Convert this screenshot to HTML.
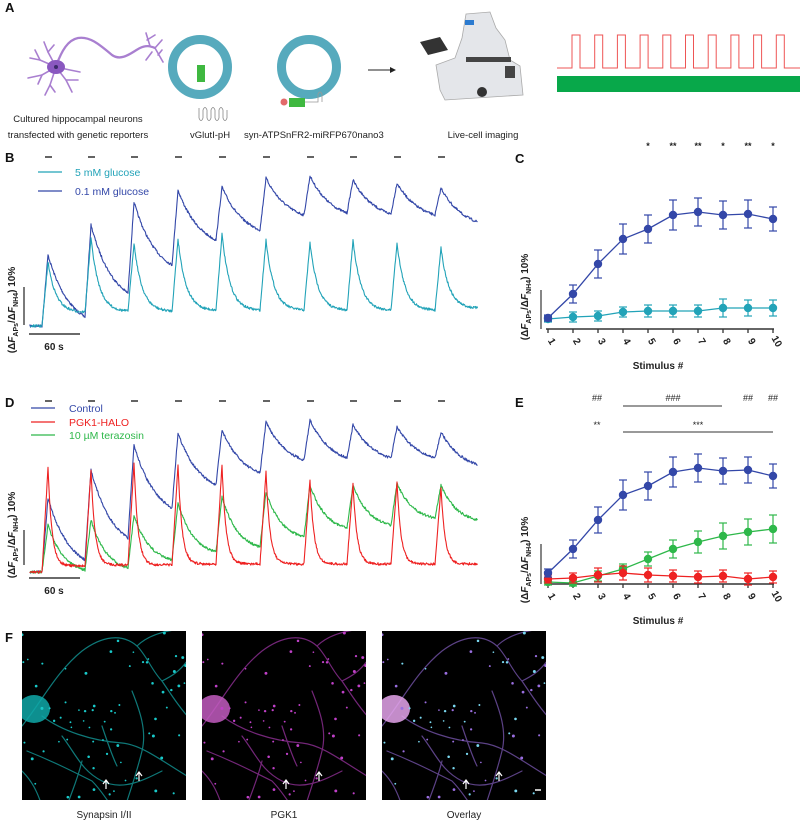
<!DOCTYPE html>
<html><head><meta charset="utf-8"><style>
html,body{margin:0;padding:0;background:#fff;}
svg{display:block;font-family:"Liberation Sans",Arial,sans-serif;}
</style></head><body>
<svg id="s" width="800" height="824" viewBox="0 0 800 824" xmlns="http://www.w3.org/2000/svg">
<defs>
<g id="neur" fill="none" stroke-linecap="round">
<path d="M0,95 C20,70 35,40 60,20 C80,5 100,2 115,15 C125,25 130,40 140,50 C150,65 160,80 170,90"/>
<path d="M20,85 C40,100 70,110 100,112 C120,114 140,130 165,145"/>
<path d="M110,60 C118,80 125,100 120,120 C115,140 110,155 105,170"/>
<path d="M5,120 C30,130 50,140 70,150 C80,160 85,170 90,175"/>
<path d="M40,105 C55,125 60,140 80,150 C100,160 120,150 140,140"/>
<path d="M115,15 C125,5 140,0 160,-2"/>
<path d="M140,50 C150,45 158,40 165,30"/>
<path d="M60,130 C55,150 50,160 45,175"/>
<path d="M0,140 C10,150 15,160 20,175"/>
<path d="M80,95 C85,110 90,125 95,135"/>
</g>
</defs>
<g id="root"></g>
</svg>
<script>
var NS="http://www.w3.org/2000/svg",root=document.getElementById('root');
function el(t,a,txt){var e=document.createElementNS(NS,t);for(var k in a)e.setAttribute(k,a[k]);if(txt!==undefined)e.textContent=txt;root.appendChild(e);return e;}
function txt(x,y,s,o){o=o||{};var a={x:x,y:y,'font-size':o.fs||11,fill:o.fill||'#222'};if(o.anchor)a['text-anchor']=o.anchor;if(o.bold)a['font-weight']='bold';if(o.tr)a.transform=o.tr;return el('text',a,s);}
var seed=7;function rnd(){seed=(seed*16807)%2147483647;return seed/2147483647;}
[['A',5,12],['B',5,162],['C',515,163],['D',5,407],['E',515,407],['F',5,642]].forEach(function(l){txt(l[1],l[2],l[0],{fs:13,bold:1,fill:'#111'});});
// Panel A neuron
var PU='#a97fd0';
el('path',{d:'M56,66 C62,50 68,40 78,38 C90,36 100,45 112,55 C122,62 132,52 140,48 C146,45 150,46 155,48',stroke:PU,'stroke-width':2.3,fill:'none'});
[['M56,67 L40,60 L30,58'],['M40,60 L35,50'],['M56,67 L42,75 L28,78'],['M42,75 L38,84'],['M56,67 L50,85 L45,95'],['M50,85 L55,92'],['M56,67 L66,80 L72,92'],['M66,80 L78,80'],['M56,67 L70,70 L80,72'],['M56,67 L48,52 L44,42'],['M48,52 L54,45'],['M155,48 L162,40'],['M155,48 L163,62'],['M150,46 L146,33'],['M147,40 L155,35'],['M152,52 L146,60'],['M158,55 L162,50']].forEach(function(p){el('path',{d:p[0],stroke:PU,'stroke-width':1.6,fill:'none','stroke-linecap':'round'});});
el('ellipse',{cx:56,cy:67,rx:9,ry:7,fill:'#8a58c0'});el('circle',{cx:56,cy:67,r:2,fill:'#3b2a6a'});
// rings
el('circle',{cx:200,cy:67,r:27.5,fill:'none',stroke:'#56aabd','stroke-width':9});
el('circle',{cx:309,cy:67,r:27.5,fill:'none',stroke:'#56aabd','stroke-width':9});
el('rect',{x:197,y:65,width:8,height:17,fill:'#3fb840'});
el('path',{d:'M199,108 L199,118 q2,5 4,0 l0,-8 q2,-5 4,0 l0,8 q2,5 4,0 l0,-8 q2,-5 4,0 l0,8 q2,5 4,0 l0,-8 q2,-5 4,0 l0,8 q2,5 4,0 l0,-8',stroke:'#888','stroke-width':0.8,fill:'none'});
el('rect',{x:289,y:98,width:16,height:9,fill:'#3fb840'});el('circle',{cx:284,cy:102,r:3.5,fill:'#e26a6a'});
el('path',{d:'M305,102 L318,102 l0,-8 q2,-4 4,0 l0,8',stroke:'#999','stroke-width':0.8,fill:'none'});
// arrow
el('line',{x1:368,y1:70,x2:392,y2:70,stroke:'#222','stroke-width':1});el('path',{d:'M390,67 L396,70 L390,73Z',fill:'#222'});
// microscope
el('path',{d:'M466,14 L490,12 L496,28 L505,40 L510,60 L520,66 L523,95 L445,100 L440,90 L436,65 L455,58 L462,38 Z',fill:'#e4e6ea',stroke:'#aaa','stroke-width':0.8});
el('rect',{x:465,y:20,width:9,height:5,fill:'#2c7bd0'});
el('rect',{x:466,y:57,width:45,height:5,fill:'#444'});el('circle',{cx:482,cy:92,r:5,fill:'#333'});
el('path',{d:'M420,42 L440,37 L448,50 L428,55Z',fill:'#333'});el('rect',{x:505,y:66,width:10,height:12,fill:'#444'});
// red square wave and green bar
var sw='M557,68';for(var i=0;i<11;i++){var x0=572+i*22.7;if(x0>798)break;sw+=' L'+x0+',68 L'+x0+',35 L'+Math.min(x0+8,800)+',35 L'+Math.min(x0+8,800)+',68';}sw+=' L800,68';
el('path',{d:sw,stroke:'#ee5555','stroke-width':1,fill:'none'});
el('rect',{x:557,y:76,width:243,height:16,fill:'#08a84a'});
txt(78,122,'Cultured hippocampal neurons',{fs:9.5,anchor:'middle'});txt(78,138,'transfected with genetic reporters',{fs:9.5,anchor:'middle'});
txt(210,138,'vGlutI-pH',{fs:9.5,anchor:'middle'});txt(244,138,'syn-ATPSnFR2-miRFP670nano3',{fs:9.5});
txt(483,138,'Live-cell imaging',{fs:9.5,anchor:'middle'});
// traces
var onsets=[42,85,128,172,216,260,304,347,391,435];
function trace(base,peaks,troughs,tau,color,noise){
 var d='M30,'+base,x;
 for(x=30;x<onsets[0];x+=0.5){d+=' L'+x+','+(base+(rnd()-.5)*noise).toFixed(1);}
 var start=base;
 for(var i=0;i<10;i++){var s=onsets[i],e=(i<9?onsets[i+1]:478),p=peaks[i],t=troughs[i];
  for(x=s;x<s+6;x+=0.5){var yy=start+(p-start)*(x-s)/6;d+=' L'+x+','+(yy+(rnd()-.5)*noise).toFixed(1);}
  var L=e-(s+6);
  for(x=s+6;x<e;x+=0.5){var tt=(x-s-6);var f=(Math.exp(-tt/tau)-Math.exp(-L/tau))/(1-Math.exp(-L/tau));var yy=t+(p-t)*f;d+=' L'+x+','+(yy+(rnd()-.5)*noise).toFixed(1);}
  start=t;}
 el('path',{d:d,stroke:color,'stroke-width':1.1,fill:'none','stroke-linejoin':'round'});
}
var CY='#22a3b8',BL='#3347a8',RD='#ee2222',GR='#2eb84a';
trace(326,[255,225,202,190,187,178,176,180,183,188],[317,293,265,240,230,215,213,214,215,222],22,BL,2.5);
trace(326,[262,238,243,239,234,240,243,240,243,248],[312,311,311,310,310,310,310,310,310,308],8,CY,2.5);
onsets.forEach(function(o){el('line',{x1:o+3,y1:157,x2:o+10,y2:157,stroke:'#111','stroke-width':1.3});});
el('line',{x1:38,y1:172,x2:62,y2:172,stroke:CY,'stroke-width':1.2});txt(75,176,'5 mM glucose',{fs:10.5,fill:CY});
el('line',{x1:38,y1:191,x2:62,y2:191,stroke:BL,'stroke-width':1.2});txt(75,195,'0.1 mM glucose',{fs:10.5,fill:BL});
el('line',{x1:24,y1:287,x2:24,y2:325,stroke:'#333','stroke-width':1.3});el('line',{x1:29,y1:334,x2:80,y2:334,stroke:'#111','stroke-width':1.3});
txt(54,350,'60 s',{fs:10,bold:1,anchor:'middle'});
function ylab(x,y){var t=el('text',{x:0,y:0,'font-size':10,'font-weight':'bold',fill:'#222','text-anchor':'middle',transform:'translate('+x+','+y+') rotate(-90)'});
 t.innerHTML='(Δ<tspan font-style="italic">F</tspan><tspan font-size="7" dy="3">APs</tspan><tspan dy="-3">/Δ</tspan><tspan font-style="italic">F</tspan><tspan font-size="7" dy="3">NH4</tspan><tspan dy="-3">) 10%</tspan>';}
ylab(15,310);
// D
trace(572,[498,470,445,433,430,422,420,425,427,432],[560,538,508,485,473,460,458,458,458,465],22,BL,2.5);
trace(572,[525,520,515,503,497,492,485,485,483,485],[570,568,560,552,547,537,528,525,518,520],16,GR,2.5);
trace(572,[468,470,463,465,465,472,480,483,482,488],[566,565,565,564,564,564,564,564,564,564],4,RD,2.5);
onsets.forEach(function(o){el('line',{x1:o+3,y1:401,x2:o+10,y2:401,stroke:'#111','stroke-width':1.3});});
[[408,BL,'Control'],[422,RD,'PGK1-HALO'],[435,GR,'10 µM terazosin']].forEach(function(l){el('line',{x1:31,y1:l[0],x2:55,y2:l[0],stroke:l[1],'stroke-width':1.2});txt(69,l[0]+4,l[2],{fs:10.5,fill:l[1]});});
el('line',{x1:24,y1:530,x2:24,y2:565,stroke:'#333','stroke-width':1.3});el('line',{x1:29,y1:578,x2:80,y2:578,stroke:'#111','stroke-width':1.3});
txt(54,594,'60 s',{fs:10,bold:1,anchor:'middle'});ylab(15,535);
// C/E plots
function xs(i){return 548+i*25;}
function axes(ay,sb1,lab){el('line',{x1:546,y1:ay,x2:774,y2:ay,stroke:'#333','stroke-width':1.5});
 for(var i=0;i<10;i++){el('line',{x1:xs(i),y1:ay,x2:xs(i),y2:ay+4,stroke:'#333','stroke-width':1.3});
  txt(0,0,String(i+1),{fs:10,bold:1,anchor:'middle',tr:'translate('+(xs(i)+1)+','+(ay+14)+') rotate(60)'});}
 el('line',{x1:541,y1:sb1,x2:541,y2:ay,stroke:'#444','stroke-width':1.3});
 txt(658,ay+40,'Stimulus #',{fs:10,bold:1,anchor:'middle'});ylab(528,lab);}
function series(v,e,c){var d='';v.forEach(function(y,i){d+=(i?' L':'M')+xs(i)+','+y;});el('path',{d:d,stroke:c,'stroke-width':1.3,fill:'none'});
 v.forEach(function(y,i){var x=xs(i);el('line',{x1:x,y1:y-e[i],x2:x,y2:y+e[i],stroke:c,'stroke-width':1.2});el('line',{x1:x-4,y1:y-e[i],x2:x+4,y2:y-e[i],stroke:c,'stroke-width':1.2});el('line',{x1:x-4,y1:y+e[i],x2:x+4,y2:y+e[i],stroke:c,'stroke-width':1.2});el('circle',{cx:x,cy:y,r:4.2,fill:c});});}
axes(329,290,297);
series([319,317,316,312,311,311,311,308,308,308],[3,5,5,5,6,6,6,9,8,8],CY);
series([318,294,264,239,229,215,212,215,214,219],[3,9,14,15,14,15,14,14,14,12],BL);
['*','**','**','*','**','*'].forEach(function(s,i){txt(xs(4+i),149,s,{fs:9,anchor:'middle',bold:1});});
axes(584,544,560);
series([582,583,576,569,559,549,542,536,532,529],[3,3,5,5,7,9,11,13,13,14],GR);
series([579,578,575,573,575,576,577,576,579,577],[4,5,7,7,7,6,6,6,6,6],RD);
series([573,549,520,495,486,472,468,471,470,476],[4,9,13,15,14,15,14,13,13,12],BL);
[[597,'##'],[673,'###'],[748,'##'],[773,'##']].forEach(function(a){txt(a[0],401,a[1],{fs:9,anchor:'middle'});});
el('line',{x1:623,y1:406,x2:722,y2:406,stroke:'#333','stroke-width':1});
txt(597,428,'**',{fs:9,anchor:'middle'});txt(698,428,'***',{fs:9,anchor:'middle'});
el('line',{x1:623,y1:432,x2:773,y2:432,stroke:'#333','stroke-width':1});
// F images
var imgs=[[22,'#19c9c9','Synapsin I/II'],[202,'#c040c8','PGK1'],[382,'#9a6ee0','Overlay']];
imgs.forEach(function(m,k){var x=m[0],y=631;el('rect',{x:x,y:y,width:164,height:169,fill:'#000'});
 var g=el('g',{'clip-path':'url(#c'+k+')'});
 var cp=document.createElementNS(NS,'clipPath');cp.setAttribute('id','c'+k);var r=document.createElementNS(NS,'rect');r.setAttribute('x',x);r.setAttribute('y',y);r.setAttribute('width',164);r.setAttribute('height',169);cp.appendChild(r);document.querySelector('defs').appendChild(cp);
 var u=document.createElementNS(NS,'use');u.setAttribute('href','#neur');u.setAttribute('transform','translate('+x+','+y+')');u.setAttribute('stroke',m[1]);u.setAttribute('stroke-width','1.2');u.setAttribute('opacity','0.6');g.appendChild(u);
 var b=document.createElementNS(NS,'ellipse');b.setAttribute('cx',x+12);b.setAttribute('cy',y+78);b.setAttribute('rx',16);b.setAttribute('ry',14);b.setAttribute('fill',k==0?'#0fa8a8':(k==1?'#c25cc0':'#e5a5ec'));b.setAttribute('opacity','0.85');g.appendChild(b);
 seed=99;for(var i=0;i<70;i++){var c=document.createElementNS(NS,'circle');c.setAttribute('cx',x+rnd()*164);c.setAttribute('cy',y+rnd()*169);c.setAttribute('r',0.8+rnd()*0.7);c.setAttribute('fill',k==2&&i%2?'#7ad8f0':m[1]);g.appendChild(c);}
 el('path',{d:'M'+(x+84)+','+(y+158)+' l0,-8 m-3,3 l3,-4 l3,4',stroke:'#fff','stroke-width':1.2,fill:'none'});
 el('path',{d:'M'+(x+117)+','+(y+150)+' l0,-8 m-3,3 l3,-4 l3,4',stroke:'#fff','stroke-width':1.2,fill:'none'});
 txt(x+82,818,m[2],{fs:10,anchor:'middle'});});
el('line',{x1:535,y1:790,x2:541,y2:790,stroke:'#fff','stroke-width':1.5});
</script>
</body></html>
